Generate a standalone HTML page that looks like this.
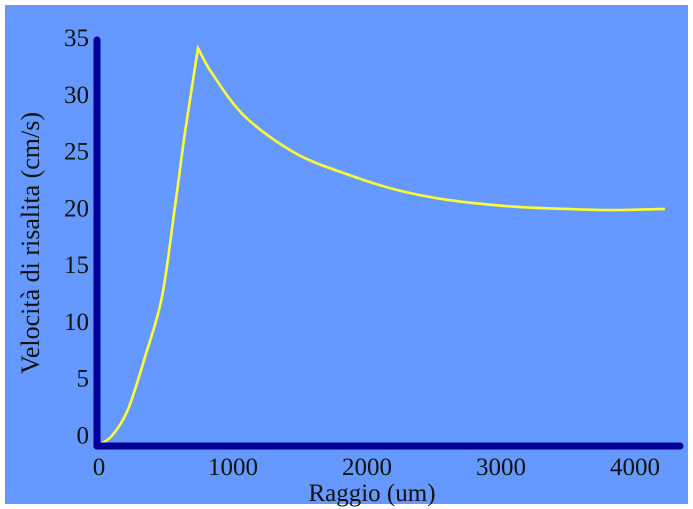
<!DOCTYPE html>
<html><head><meta charset="utf-8"><style>
html,body{margin:0;padding:0;background:#fff;}
svg{display:block;}
text{font-family:"Liberation Serif",serif;fill:#111;}
</style></head><body>
<svg width="693" height="509" viewBox="0 0 693 509">
<rect x="5" y="5" width="683" height="499" fill="#6699ff"/>
<g id="ticks"></g>
<path id="curve" fill="none" stroke="#ffff33" stroke-width="2.6" stroke-linejoin="miter"/>
<line x1="97" y1="40" x2="97" y2="446" stroke="#000099" stroke-width="7" stroke-linecap="round"/>
<line x1="97" y1="446" x2="680" y2="446" stroke="#000099" stroke-width="7" stroke-linecap="round"/>
<text x="372" y="501" font-size="25" text-anchor="middle">Raggio (um)</text>
<text transform="translate(39,243) rotate(-90)" font-size="26" text-anchor="middle">Velocità di risalita (cm/s)</text>
</svg>
<script>
const radius = [0,112,231,358,485,582,657,754,858,1104,1478,1851,2224,2612,3104,3604,3903,4239];
const velocity = [0,0.9,3.2,7.8,13.1,21.0,27.5,34.9,32.7,28.9,25.7,23.9,22.5,21.6,21.0,20.75,20.7,20.8];
const xTicks = [0,1000,2000,3000,4000];
const yTicks = [0,5,10,15,20,25,30,35];
const xScale = v => 97 + v*0.134;
const yScale = v => 446 - v*11.4;
const ns = "http://www.w3.org/2000/svg";
// Catmull-Rom smoothing, split at peak so the cusp stays sharp
let peak = 0;
for (let i=1;i<velocity.length;i++) if (velocity[i]>velocity[peak]) peak=i;
const pts = radius.map((r,i)=>[xScale(r), yScale(velocity[i])]);
function seg(a,b){
  const p = pts.slice(a,b+1);
  let s = "";
  for (let i=0;i<p.length-1;i++){
    const p0 = p[Math.max(i-1,0)], p1=p[i], p2=p[i+1], p3=p[Math.min(i+2,p.length-1)];
    const c1=[p1[0]+(p2[0]-p0[0])/6, p1[1]+(p2[1]-p0[1])/6];
    const c2=[p2[0]-(p3[0]-p1[0])/6, p2[1]-(p3[1]-p1[1])/6];
    s += "C"+c1.map(v=>v.toFixed(1)).join(",")+" "+c2.map(v=>v.toFixed(1)).join(",")+" "+p2.map(v=>v.toFixed(1)).join(",");
  }
  return s;
}
const d = "M"+pts[0][0].toFixed(1)+","+pts[0][1].toFixed(1)+seg(0,peak)+seg(peak,pts.length-1);
document.getElementById("curve").setAttribute("d", d);
const g = document.getElementById("ticks");
xTicks.forEach(t=>{
  const el = document.createElementNS(ns,"text");
  
  
  el.setAttribute("x", xScale(t)+2);
  el.setAttribute("y", 475);
  el.setAttribute("font-size","25");
  el.setAttribute("text-anchor","middle");
  el.textContent = t;
  g.appendChild(el);
});
yTicks.forEach(t=>{
  const el = document.createElementNS(ns,"text");
  
  
  el.setAttribute("x", 89);
  el.setAttribute("y", yScale(t) - 1 - (35-t)*0.05);
  el.setAttribute("font-size","25");
  el.setAttribute("text-anchor","end");
  el.textContent = t;
  g.appendChild(el);
});
</script>
</body></html>
